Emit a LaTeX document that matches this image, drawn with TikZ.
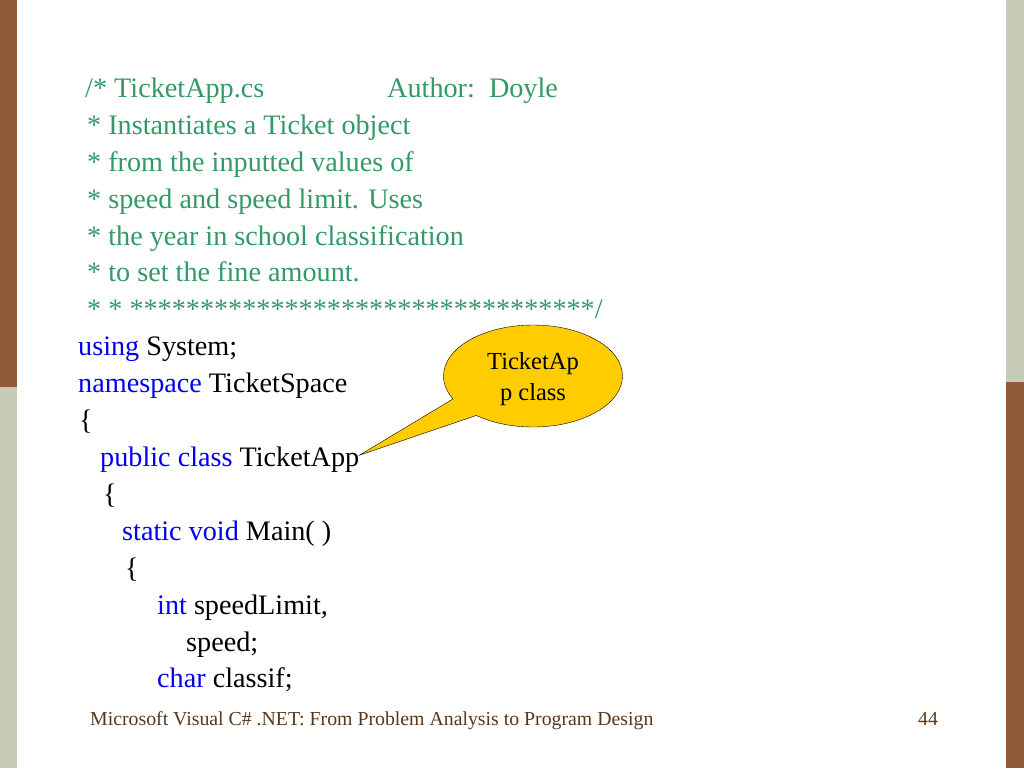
\documentclass[tikz,border=0pt]{standalone}
\usepackage{fontspec}
\setmainfont{Liberation Serif}
\usetikzlibrary{shapes.callouts}
\definecolor{barbrown}{RGB}{143,89,58}
\definecolor{barsage}{RGB}{197,203,181}
\definecolor{commentgreen}{RGB}{51,153,102}
\definecolor{keywordblue}{RGB}{0,0,240}
\definecolor{footerbrown}{RGB}{90,55,25}
\definecolor{calloutgold}{RGB}{255,204,0}
\newcommand{\kw}[1]{\textcolor{keywordblue}{#1}}
\tikzset{
	codeline/.style = {anchor = base west, inner sep = 0pt, font = \fontsize{28.2}{34}\selectfont},
	comment/.style = {codeline, text = commentgreen},
	footline/.style = {anchor = base west, inner sep = 0pt, text = footerbrown, font = \fontsize{19.8}{24}\selectfont}
}
\begin{document}
\begin{tikzpicture}[x = 1pt, y = -1pt]
		\def\topleftbar{(0,0) rectangle (17,387)};
		\def\bottomleftbar{(0,387) rectangle (17,768)};
		\def\toprightbar{(1006,0) rectangle (1024,382)};
		\def\bottomrightbar{(1006,382) rectangle (1024,768)};
		
		\useasboundingbox (0,0) rectangle (1024,768);
		
		\begin{scope}
			\fill [barbrown] \topleftbar;
			\fill [barsage] \bottomleftbar;
			\fill [barsage] \toprightbar;
			\fill [barbrown] \bottomrightbar;
		\end{scope}
		
		\begin{scope}
			\node [comment] (title) at (85,97) {/* TicketApp.cs};
			\node [comment] (author) at (387,97) {Author:\ \ Doyle};
			\node [comment] (descone) at (87,134) {* Instantiates a Ticket object};
			\node [comment] (desctwo) at (87,171) {* from the inputted values of};
			\node [comment] (descthree) at (87,208) {* speed and speed limit. Uses};
			\node [comment] (descfour) at (87,245) {* the year in school classification};
			\node [comment] (descfive) at (87,281) {* to set the fine amount.};
			\node [comment] (stars) at (87,318) {* * *********************************/};
		\end{scope}
		
		\begin{scope}
			\node [codeline] (using) at (78,355) {\kw{using} System;};
			\node [codeline] (namespace) at (78,392) {\kw{namespace} TicketSpace};
			\node [codeline] (openspace) at (79,429) {\{};
			\node [codeline] (classline) at (100,466) {\kw{public class} TicketApp};
			\node [codeline] (openclass) at (103,503) {\{};
			\node [codeline] (mainline) at (122,540) {\kw{static void} Main( )};
			\node [codeline] (openmain) at (125,577) {\{};
			\node [codeline] (intline) at (157,614) {\kw{int} speedLimit,};
			\node [codeline] (speedline) at (186,651) {speed;};
			\node [codeline] (charline) at (157,687) {\kw{char} classif;};
		\end{scope}
		
		\begin{scope}
			\coordinate (tip) at ([yshift = 4pt] classline.east);
			\node [ellipse callout, draw, fill = calloutgold, minimum width = 179pt, minimum height = 102pt,
				callout absolute pointer = {(tip)}, callout pointer arc = 24, align = center,
				font = \fontsize{24.5}{31}\selectfont] (bubble) at (533,376) {};
			\node [align = center, font = \fontsize{24.5}{31}\selectfont] (bubbletext) at (533,379) {TicketAp\\p class};
		\end{scope}
		
		\begin{scope}
			\node [footline] (footer) at (90,725) {Microsoft Visual C\# .NET: From Problem Analysis to Program Design};
			\node [footline] (pagenum) at (918,725) {44};
		\end{scope}
	\end{tikzpicture}
\end{document}
